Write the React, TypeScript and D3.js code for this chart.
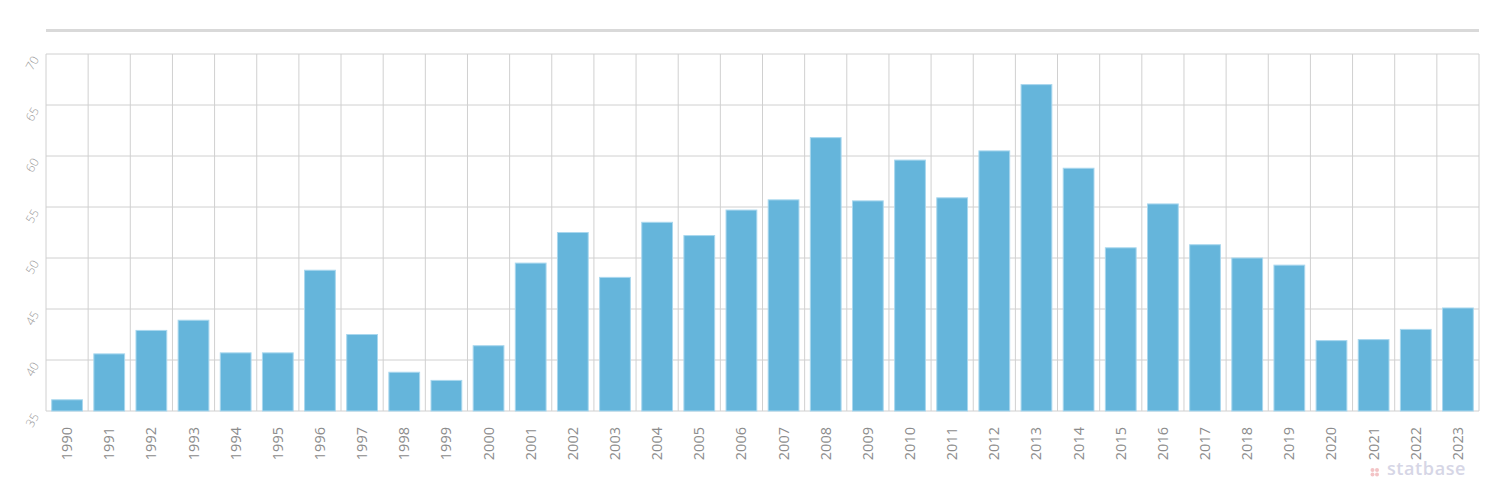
import React from "react";
import * as d3 from "d3";

const years = ["1990","1991","1992","1993","1994","1995","1996","1997","1998","1999","2000","2001","2002","2003","2004","2005","2006","2007","2008","2009","2010","2011","2012","2013","2014","2015","2016","2017","2018","2019","2020","2021","2022","2023"];
const values = [36.1,40.6,42.9,43.9,40.7,40.7,48.8,42.5,38.8,38.0,41.4,49.5,52.5,48.1,53.5,52.2,54.7,55.7,61.8,55.6,59.6,55.9,60.5,67.0,58.8,51.0,55.3,51.3,50.0,49.3,41.9,42.0,43.0,45.1];
const yTicks = [35,40,45,50,55,60,65,70];

const W = 1500, H = 480;
const left = 46, right = 1479, top = 54, bottom = 411;

export default function App() {
  const x = d3.scaleBand<string>().domain(years).range([left, right]).paddingInner(0.27).paddingOuter(0.135);
  const xg = d3.scaleBand<string>().domain(years).range([left, right]).padding(0);
  const y = d3.scaleLinear().domain([35, 70]).range([bottom, top]);
  const font = "'Open Sans', sans-serif";
  return (
    <svg width={W} height={H} style={{ position: "absolute", left: 0, top: 0 }}>
      <rect x={0} y={0} width={W} height={H} fill="#fff" />
      <rect x={left} y={29} width={right - left} height={3} fill="#d9d9d9" />
      {yTicks.map(t => (
        <line key={"g" + t} x1={left} x2={right} y1={y(t)} y2={y(t)} stroke="#d0d0d0" strokeWidth={1} />
      ))}
      {years.map(yr => (
        <line key={"v" + yr} x1={xg(yr)!} x2={xg(yr)!} y1={top} y2={bottom} stroke="#d0d0d0" strokeWidth={1} />
      ))}
      <line x1={right} x2={right} y1={top} y2={bottom} stroke="#d0d0d0" strokeWidth={1} />
      {years.map((yr, i) => (
        <rect key={"b" + yr} x={x(yr)!} y={y(values[i])} width={x.bandwidth()} height={bottom - y(values[i])}
          fill="#65b5db" stroke="#a9d7ee" strokeWidth={1} />
      ))}
      {yTicks.map(t => (
        <text key={"yl" + t} transform={`translate(32,${y(t) + 9}) rotate(-60)`} textAnchor="middle"
          dominantBaseline="central" fontFamily={font} fontSize={12} fontWeight={300} fill="#999">{t}</text>
      ))}
      {years.map(yr => (
        <text key={"xl" + yr} transform={`translate(${x(yr)! + x.bandwidth() / 2 + 5},${427}) rotate(-90)`}
          textAnchor="end" fontFamily={font} fontSize={14.5} fontWeight={400} fill="#8c8c8c">{yr}</text>
      ))}
      <g>
        {[0, 1].map(r => [0, 1].map(c => (
          <circle key={`d${r}${c}`} cx={1372.5 + c * 4.5} cy={470 + r * 4.5} r={2} fill="#f3c4c6" />
        )))}
        <text x={1387} y={475} fontFamily={font} fontSize={18} fontWeight={600} fill="#d6d6e6" letterSpacing={0.6}>statbase</text>
      </g>
    </svg>
  );
}
